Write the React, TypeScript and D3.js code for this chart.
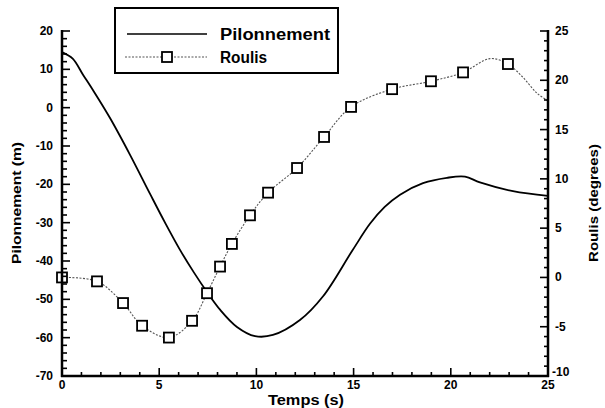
import React from 'react';
import * as d3 from 'd3';

// Pilonnement (heave, m) - left axis
const heaveTime = [0, 0.55, 1.08, 1.59, 2.47, 3.5, 4.53, 5.3, 6.07, 6.8, 7.46, 8.13, 9.0, 9.93, 10.85, 12.24, 13.43, 14.92, 15.84, 16.6, 17.39, 18.57, 19.8, 20.73, 21.5, 23.2, 25];
const heaveValue = [14.5, 12.8, 8.6, 4.6, -2.7, -12.3, -22.5, -30.0, -37.1, -43.1, -48.1, -52.7, -57.2, -59.6, -59.3, -55.4, -49.2, -37.4, -30.3, -25.9, -22.7, -19.7, -18.3, -18.0, -19.5, -21.8, -23.0];

// Roulis (roll, degrees) - right axis
const rollTime = [0, 1.8, 3.14, 4.12, 5.5, 6.69, 7.46, 8.13, 8.74, 9.67, 10.6, 12.09, 13.48, 14.87, 16.98, 18.98, 20.63, 22.02, 22.94, 23.71, 24.43, 25];
const rollValue = [0, -0.4, -2.6, -4.9, -6.1, -4.4, -1.6, 1.1, 3.4, 6.3, 8.6, 11.1, 14.25, 17.3, 19.1, 19.9, 20.8, 22.2, 21.65, 20.3, 18.7, 17.9];
const rollMarked = [1, 1, 1, 1, 1, 1, 1, 1, 1, 1, 1, 1, 1, 1, 1, 1, 1, 0, 1, 0, 0, 0];

const xTicks = [0, 5, 10, 15, 20, 25];
const leftTicks = [20, 10, 0, -10, -20, -30, -40, -50, -60, -70];
const rightTicks = [25, 20, 15, 10, 5, 0, -5, -10];

const W = 605;
const H = 408;
const FONT = '"Liberation Sans", Arial, Helvetica, sans-serif';

export default function App() {
  const x = d3.scaleLinear().domain([0, 25]).range([62, 548]);
  const yL = d3.scaleLinear().domain([-70, 20]).range([376, 31]);
  const yR = d3.scaleLinear().domain([-10, 25]).range([376, 31]);

  const heave = heaveTime.map((t, i) => [t, heaveValue[i]] as [number, number]);
  const roll = rollTime.map((t, i) => [t, rollValue[i]] as [number, number]);

  const heaveLine = d3
    .line<[number, number]>()
    .x((d) => x(d[0]))
    .y((d) => yL(d[1]))
    .curve(d3.curveCatmullRom.alpha(0.5));
  const rollLine = d3
    .line<[number, number]>()
    .x((d) => x(d[0]))
    .y((d) => yR(d[1]))
    .curve(d3.curveCatmullRom.alpha(0.5));

  const [x0, x1] = x.range();
  const yb = yL.range()[0];
  const yt = yL.range()[1];

  const xMinor = d3.range(0, 26, 1);
  const lMinor = d3.range(-70, 21, 2);
  const rMinor = d3.range(-10, 26, 1);

  const sq = 10;

  return (
    <svg
      width={W}
      height={H}
      style={{ position: 'fixed', left: 0, top: 0, background: '#fff' }}
      fontFamily={FONT}
    >
      {/* curves */}
      <path d={heaveLine(heave) || ''} fill="none" stroke="#000" strokeWidth={1.8} />
      <path
        d={rollLine(roll) || ''}
        fill="none"
        stroke="#555"
        strokeWidth={1.1}
        strokeDasharray="2,1.5"
      />
      {roll.map((d, i) =>
        rollMarked[i] ? (
          <rect
            key={i}
            x={x(d[0]) - sq / 2}
            y={yR(d[1]) - sq / 2}
            width={sq}
            height={sq}
            fill="#fff"
            stroke="#000"
            strokeWidth={1.8}
          />
        ) : null
      )}

      {/* axes lines */}
      <g stroke="#000" strokeWidth={2.5} fill="none">
        <line x1={x0} x2={x0} y1={yt - 1} y2={yb + 1} />
        <line x1={x1} x2={x1} y1={yt - 1} y2={yb + 1} />
        <line x1={x0 - 1} x2={x1 + 1} y1={yb} y2={yb} />
      </g>

      {/* ticks */}
      <g stroke="#000" strokeWidth={1.6}>
        {xMinor.map((t) => (
          <line key={'xm' + t} x1={x(t)} x2={x(t)} y1={yb} y2={yb - (t % 5 === 0 ? 8 : 4)} />
        ))}
        {lMinor.map((t) => (
          <line key={'lm' + t} x1={x0} x2={x0 + (t % 10 === 0 ? 8 : 5)} y1={yL(t)} y2={yL(t)} />
        ))}
        {rMinor.map((t) => (
          <line key={'rm' + t} x1={x1} x2={x1 - (t % 5 === 0 ? 8 : 4)} y1={yR(t)} y2={yR(t)} />
        ))}
      </g>

      {/* tick labels */}
      <g fontSize={12} fontWeight="bold" fill="#000">
        {xTicks.map((t) => (
          <text key={'xt' + t} x={x(t)} y={389} textAnchor="middle">
            {t}
          </text>
        ))}
        {leftTicks.map((t) => (
          <text key={'lt' + t} x={53} y={yL(t) + 4} textAnchor="end">
            {t}
          </text>
        ))}
        {rightTicks.map((t) => (
          <text key={'rt' + t} x={t === -10 ? 552 : 555} y={yR(t) + (t === -10 ? 0 : 4)} textAnchor="start">
            {t}
          </text>
        ))}
      </g>

      {/* axis titles */}
      <g fontWeight="bold" fill="#000">
        <text x={306} y={405} textAnchor="middle" fontSize={14} textLength={76} lengthAdjust="spacingAndGlyphs">
          Temps (s)
        </text>
        <text
          transform="translate(21,203) rotate(-90)"
          textAnchor="middle"
          fontSize={13}
          textLength={122}
          lengthAdjust="spacingAndGlyphs"
        >
          Pilonnement (m)
        </text>
        <text
          transform="translate(598,203) rotate(-90)"
          textAnchor="middle"
          fontSize={13}
          textLength={118}
          lengthAdjust="spacingAndGlyphs"
        >
          Roulis (degrees)
        </text>
      </g>

      {/* legend */}
      <g>
        <rect x={115} y={8} width={223} height={65} fill="#fff" stroke="#000" strokeWidth={2} />
        <line x1={127} x2={207} y1={34} y2={34} stroke="#000" strokeWidth={1.6} />
        <line x1={125} x2={207} y1={57} y2={57} stroke="#555" strokeWidth={1.1} strokeDasharray="2,1.5" />
        <rect x={167 - sq / 2} y={57 - sq / 2} width={sq} height={sq} fill="#fff" stroke="#000" strokeWidth={1.8} />
        <text x={220} y={40} fontSize={16} fontWeight="bold" textLength={110} lengthAdjust="spacingAndGlyphs">
          Pilonnement
        </text>
        <text x={220} y={63} fontSize={16} fontWeight="bold" textLength={47} lengthAdjust="spacingAndGlyphs">
          Roulis
        </text>
      </g>
    </svg>
  );
}
